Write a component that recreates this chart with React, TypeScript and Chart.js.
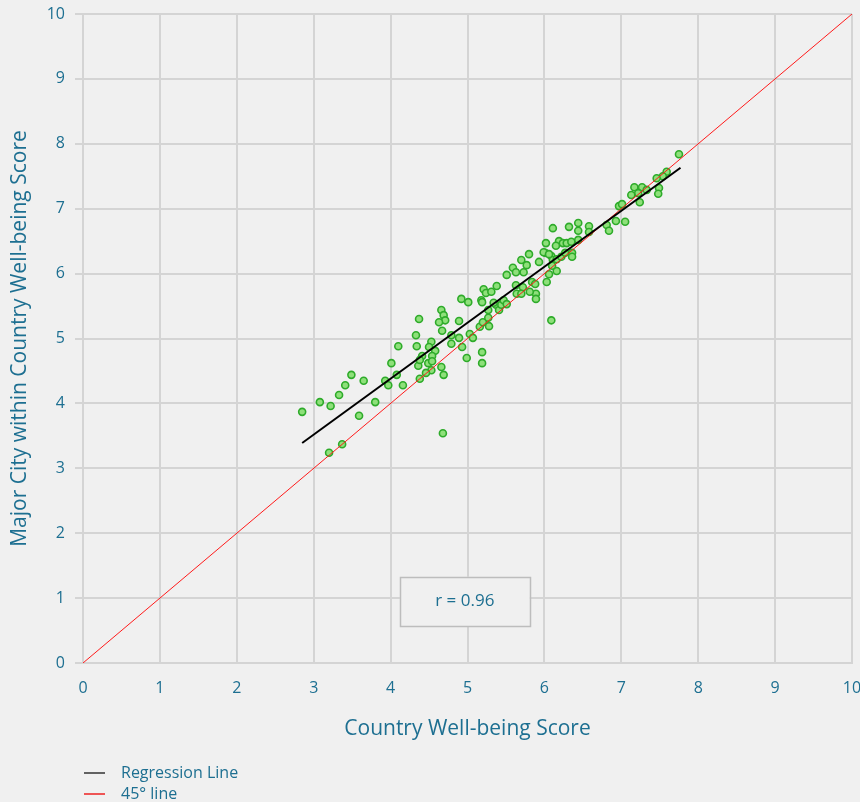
import React, { useEffect, useRef } from "react";
import { Chart, registerables } from "chart.js";
Chart.register(...registerables);

const countryScores = [
  2.85, 3.08, 3.22, 3.33, 3.41, 3.49, 3.65, 3.59, 3.37, 3.2, 3.8, 3.93, 3.97, 4.01, 4.08, 4.16, 4.1, 4.33, 4.34, 4.36,
  4.38, 4.37, 4.66, 4.69, 4.71, 4.63, 4.67, 4.89, 4.92, 5.01, 5.18, 5.19, 5.21, 5.24, 5.31, 5.38, 4.53, 4.79, 4.89, 4.79,
  4.93, 5.03, 5.07, 4.99, 5.19, 5.19, 4.5, 4.58, 4.54, 4.41, 4.38, 4.49, 4.54, 4.53, 4.46, 4.66, 4.69, 4.68, 5.16, 5.2,
  5.27, 5.28, 5.27, 5.37, 5.41, 5.44, 5.47, 5.51, 5.34, 5.8, 5.7, 5.77, 5.59, 5.63, 5.73, 5.51, 5.93, 6.01, 6.09, 6.11,
  6.16, 6.06, 6.03, 5.84, 5.88, 5.63, 5.72, 5.89, 5.64, 5.7, 5.81, 5.89, 6.09, 6.11, 6.32, 6.44, 6.44, 6.58, 6.58, 6.81,
  6.93, 6.84, 6.02, 6.19, 6.24, 6.29, 6.35, 6.44, 6.15, 5.99, 6.06, 6.22, 6.27, 6.36, 6.36, 6.16, 6.1, 7.75, 7.59, 7.54,
  7.46, 7.49, 7.48, 7.17, 7.27, 7.33, 7.22, 7.13, 7.24, 6.97, 7.01, 7.05,
];
const cityScores = [
  3.87, 4.02, 3.96, 4.13, 4.28, 4.44, 4.35, 3.81, 3.37, 3.24, 4.02, 4.35, 4.28, 4.62, 4.44, 4.28, 4.88, 5.05, 4.88, 4.58,
  4.38, 5.3, 5.44, 5.36, 5.28, 5.25, 5.12, 5.27, 5.61, 5.56, 5.59, 5.56, 5.76, 5.7, 5.72, 5.81, 4.95, 5.05, 5.01, 4.92,
  4.87, 5.07, 5.01, 4.7, 4.79, 4.62, 4.87, 4.81, 4.73, 4.73, 4.67, 4.62, 4.65, 4.51, 4.47, 4.56, 4.44, 3.54, 5.18, 5.25,
  5.32, 5.19, 5.44, 5.52, 5.44, 5.52, 5.59, 5.53, 5.55, 6.3, 6.21, 6.13, 6.09, 6.02, 6.02, 5.98, 6.18, 6.32, 6.27, 6.21,
  6.22, 5.99, 5.87, 5.87, 5.84, 5.82, 5.79, 5.69, 5.69, 5.69, 5.72, 5.61, 5.28, 6.7, 6.72, 6.78, 6.66, 6.73, 6.64, 6.75,
  6.81, 6.66, 6.47, 6.5, 6.47, 6.47, 6.49, 6.52, 6.43, 6.33, 6.3, 6.26, 6.32, 6.32, 6.26, 6.04, 6.12, 7.84, 7.57, 7.5,
  7.47, 7.32, 7.23, 7.33, 7.33, 7.29, 7.24, 7.21, 7.1, 7.04, 7.07, 6.8,
];
const regressionX = [2.85, 7.77];
const regressionY = [3.39, 7.63];
const diagonalX = [0, 10];
const diagonalY = [0, 10];
const tickValues = [0, 1, 2, 3, 4, 5, 6, 7, 8, 9, 10];
const legendLabels = ["Regression Line", "45° line"];
const correlationLabel = "r = 0.96";
const xTitle = "Country Well-being Score";
const yTitle = "Major City within Country Well-being Score";

const FONT = "'Open Sans', sans-serif";
const TEXT = "#1d6f91";
const BG = "#f0f0f0";
const GRID = "#d4d4d4";

export default function App() {
  const ref = useRef<HTMLCanvasElement | null>(null);
  useEffect(() => {
    document.body.style.margin = "0";
    document.body.style.background = BG;
    const canvas = ref.current!;
    const bgPlugin = {
      id: "bg",
      beforeDraw(chart: any) {
        const c = chart.ctx;
        c.save();
        c.fillStyle = BG;
        c.fillRect(0, 0, chart.width, chart.height);
        c.restore();
      },
      afterDraw(chart: any) {
        const c = chart.ctx;
        const xs = chart.scales.x;
        const ys = chart.scales.y;
        const bx1 = xs.getPixelForValue(4.12);
        const bx2 = xs.getPixelForValue(5.81);
        const by1 = ys.getPixelForValue(1.33);
        const by2 = ys.getPixelForValue(0.57);
        c.save();
        c.fillStyle = BG;
        c.fillRect(bx1, by1, bx2 - bx1, by2 - by1);
        c.strokeStyle = "#bdbdbd";
        c.lineWidth = 1.5;
        c.strokeRect(Math.round(bx1) + 0.5, Math.round(by1) + 0.5, Math.round(bx2 - bx1), Math.round(by2 - by1));
        c.fillStyle = TEXT;
        c.font = `17px ${FONT}`;
        c.textAlign = "center";
        c.textBaseline = "middle";
        c.fillText(correlationLabel, (bx1 + bx2) / 2, (by1 + by2) / 2);
        const left = chart.chartArea.left;
        const colors = ["#333333", "#ee2222"];
        legendLabels.forEach((lab, i) => {
          const y = 773 + i * 21;
          c.strokeStyle = colors[i];
          c.lineWidth = 1.5;
          c.beginPath();
          c.moveTo(left + 1, y);
          c.lineTo(left + 22, y);
          c.stroke();
          c.fillStyle = TEXT;
          c.textAlign = "left";
          c.textBaseline = "middle";
          c.font = `16px ${FONT}`;
          c.fillText(lab, left + 38, y);
        });
        c.restore();
      },
    };
    const points = countryScores.map((x, i) => ({ x, y: cityScores[i] }));
    const chart = new Chart(canvas, {
      type: "scatter",
      data: {
        datasets: [
          {
            label: legendLabels[0],
            data: regressionX.map((x, i) => ({ x, y: regressionY[i] })),
            showLine: true,
            borderColor: "#000000",
            borderWidth: 2,
            pointRadius: 0,
          },
          {
            label: legendLabels[1],
            data: diagonalX.map((x, i) => ({ x, y: diagonalY[i] })),
            showLine: true,
            borderColor: "#ff1a1a",
            borderWidth: 1,
            pointRadius: 0,
          },
          {
            label: "Cities",
            data: points,
            showLine: false,
            pointRadius: 3.5,
            pointBorderWidth: 1.6,
            backgroundColor: "#8ee07a",
            borderColor: "#2eab2a",
          },
        ],
      },
      options: {
        animation: false,
        responsive: false,
        maintainAspectRatio: false,
        layout: { padding: { top: 14, right: 8, bottom: 57, left: 0 } },
        plugins: { legend: { display: false }, tooltip: { enabled: false } },
        scales: {
          x: {
            type: "linear",
            min: 0,
            max: 10,
            afterBuildTicks: (s: any) => {
              s.ticks = tickValues.map((v) => ({ value: v }));
            },
            afterFit: (s: any) => {
              s.height = 82;
              s.paddingLeft = 0;
              s.paddingRight = 0;
            },
            grid: { color: GRID, lineWidth: 2, drawTicks: false },
            border: { color: GRID, width: 2 },
            ticks: { color: TEXT, font: { family: FONT, size: 16 }, padding: 16, maxRotation: 0 },
            title: {
              display: true,
              text: xTitle,
              color: TEXT,
              font: { family: FONT, size: 21 },
              padding: { top: 3, bottom: 3 },
            },
          },
          y: {
            type: "linear",
            min: 0,
            max: 10,
            afterBuildTicks: (s: any) => {
              s.ticks = tickValues.map((v) => ({ value: v }));
            },
            afterFit: (s: any) => {
              s.width = 83;
              s.paddingTop = 0;
              s.paddingBottom = 0;
            },
            grid: { color: GRID, lineWidth: 2, drawTicks: true, tickLength: 8 },
            border: { color: GRID, width: 2 },
            ticks: { color: TEXT, font: { family: FONT, size: 16 }, padding: 10 },
            title: {
              display: true,
              text: yTitle,
              color: TEXT,
              font: { family: FONT, size: 21 },
              padding: { top: 7, bottom: 7 },
            },
          },
        },
      },
      plugins: [bgPlugin],
    } as any);
    return () => chart.destroy();
  }, []);
  return <canvas ref={ref} width={860} height={802} style={{ display: "block" }} />;
}
